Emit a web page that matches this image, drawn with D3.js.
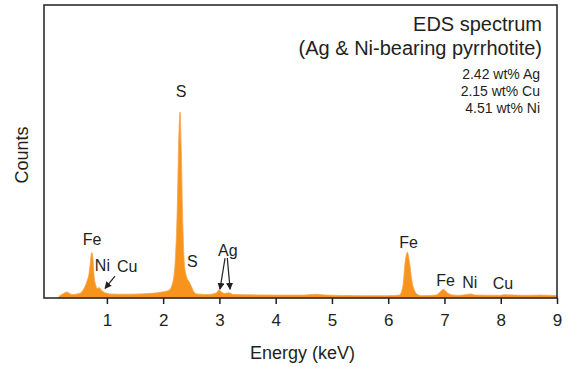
<!DOCTYPE html>
<html>
<head>
<meta charset="utf-8">
<script src="https://cdn.jsdelivr.net/npm/d3@7"></script>
<style>
  html, body { margin: 0; padding: 0; background: #fff; }
  svg { display: block; font-family: "Liberation Sans", Arial, sans-serif; }
</style>
</head>
<body>
<svg id="chart" width="575" height="367"></svg>
<script>
// spectrum (energy in keV, counts in arbitrary units)
const energy = [0.13, 0.15, 0.2, 0.25, 0.3, 0.35, 0.4, 0.45, 0.5, 0.55, 0.6, 0.65, 0.68, 0.7, 0.73, 0.75,
  0.77, 0.8, 0.83, 0.86, 0.89, 0.93, 0.97, 1.05, 1.2, 1.4, 1.6, 1.8, 2.0, 2.1, 2.15, 2.2, 2.25, 2.28,
  2.3, 2.32, 2.35, 2.38, 2.42, 2.46, 2.5, 2.55, 2.6, 2.8, 2.95, 2.99, 3.04, 3.1, 3.16, 3.25, 3.5, 4.0,
  4.5, 4.7, 4.9, 5.5, 6.0, 6.2, 6.26, 6.3, 6.34, 6.38, 6.42, 6.47, 6.52, 6.6, 6.85, 6.93, 6.98, 7.05,
  7.15, 7.25, 7.4, 7.47, 7.55, 8.0, 8.05, 8.4, 8.7, 9.0];
const counts = [0, 5, 12, 18, 20, 14, 12, 13, 15, 20, 35, 60, 80, 110, 155, 140,
  80, 45, 32, 36, 30, 22, 18, 14, 13, 13, 14, 16, 21, 26, 40, 90, 300, 560,
  635, 520, 250, 110, 70, 56, 40, 20, 14, 12, 18, 27, 20, 15, 18, 12, 11, 10,
  10, 13, 10, 8, 8, 10, 40, 120, 156, 120, 60, 25, 12, 8, 10, 22, 30, 18,
  10, 9, 12, 14, 10, 9, 11, 9, 10, 8];

const xTicks = [1, 2, 3, 4, 5, 6, 7, 8, 9];

// peak labels: text, energy, counts (baseline)
const labelText = ['S', 'Fe', 'Ni', 'Cu', 'S', 'Ag', 'Fe', 'Fe', 'Ni', 'Cu'];
const labelEnergy = [2.32, 0.735, 0.92, 1.36, 2.52, 3.15, 6.36, 7.02, 7.45, 8.04];
const labelCounts = [686, 181, 92, 88, 107, 143, 170, 42, 33, 31];

// arrows: start (energy, counts) -> end (energy, counts)
const arrowFrom = [[1.144, 75], [3.1, 136], [3.14, 136]];
const arrowTo = [[0.967, 33], [3.01, 30], [3.19, 30]];

const titleLines = ['EDS spectrum', '(Ag & Ni-bearing pyrrhotite)'];
const compLines = ['2.42 wt% Ag', '2.15 wt% Cu', '4.51 wt% Ni'];

const svg = d3.select('#chart');
const plotLeft = 44, plotRight = 557, plotTop = 5, plotBottom = 298;

const x = d3.scaleLinear().domain([-0.1, 9]).range([plotLeft + 1, plotRight]);
const y = d3.scaleLinear().domain([0, 1000]).range([plotBottom, plotTop]);

const data = energy.map((e, i) => ({ e, c: counts[i] }));

const area = d3.area()
  .x(d => x(d.e))
  .y0(y(0))
  .y1(d => y(d.c))
  .curve(d3.curveMonotoneX);

svg.append('path')
  .datum(data)
  .attr('fill', '#f7941d')
  .attr('stroke', '#f9a54a')
  .attr('stroke-width', 0.8)
  .attr('d', area);

// frame
svg.append('rect')
  .attr('x', plotLeft).attr('y', plotTop)
  .attr('width', plotRight - plotLeft).attr('height', plotBottom - plotTop)
  .attr('fill', 'none')
  .attr('stroke', '#231f20')
  .attr('stroke-width', 1.5);

const xAxis = svg.append('g')
  .attr('transform', `translate(0,${plotBottom})`)
  .call(d3.axisBottom(x).tickValues(xTicks).tickSizeInner(6).tickSizeOuter(0).tickPadding(10));
xAxis.select('.domain').remove();
xAxis.selectAll('.tick line').attr('stroke', '#231f20').attr('stroke-width', 1.5);
xAxis.selectAll('.tick text')
  .attr('fill', '#231f20')
  .style('font-size', '17px')
  .style('font-family', '"Liberation Sans", Arial, sans-serif');

svg.append('text')
  .attr('x', (plotLeft + plotRight) / 2 + 2)
  .attr('y', 359)
  .attr('text-anchor', 'middle')
  .attr('fill', '#231f20')
  .style('font-size', '18px')
  .text('Energy (keV)');

svg.append('text')
  .attr('transform', 'translate(28,155) rotate(-90)')
  .attr('text-anchor', 'middle')
  .attr('fill', '#231f20')
  .style('font-size', '18px')
  .text('Counts');

// title block
svg.append('g').selectAll('text')
  .data(titleLines)
  .join('text')
  .attr('x', 542)
  .attr('y', (d, i) => 31 + i * 24)
  .attr('text-anchor', 'end')
  .attr('fill', '#231f20')
  .style('font-size', '20px')
  .text(d => d);

svg.append('g').selectAll('text')
  .data(compLines)
  .join('text')
  .attr('x', 540)
  .attr('y', (d, i) => 79 + i * 17)
  .attr('text-anchor', 'end')
  .attr('fill', '#231f20')
  .style('font-size', '14px')
  .text(d => d);

// peak labels
svg.append('g').selectAll('text')
  .data(labelText)
  .join('text')
  .attr('x', (d, i) => x(labelEnergy[i]))
  .attr('y', (d, i) => y(labelCounts[i]))
  .attr('text-anchor', 'middle')
  .attr('fill', '#231f20')
  .style('font-size', '16px')
  .text(d => d);

// arrows
svg.append('defs').append('marker')
  .attr('id', 'head')
  .attr('viewBox', '0 0 10 10')
  .attr('refX', 9).attr('refY', 5)
  .attr('markerWidth', 7).attr('markerHeight', 7)
  .attr('markerUnits', 'userSpaceOnUse')
  .attr('orient', 'auto')
  .append('path')
  .attr('d', 'M0,0 L10,5 L0,10 Z')
  .attr('fill', '#231f20');

svg.append('g').selectAll('line')
  .data(arrowFrom)
  .join('line')
  .attr('x1', d => x(d[0]))
  .attr('y1', d => y(d[1]))
  .attr('x2', (d, i) => x(arrowTo[i][0]))
  .attr('y2', (d, i) => y(arrowTo[i][1]))
  .attr('stroke', '#231f20')
  .attr('stroke-width', 1.2)
  .attr('marker-end', 'url(#head)');
</script>
</body>
</html>
